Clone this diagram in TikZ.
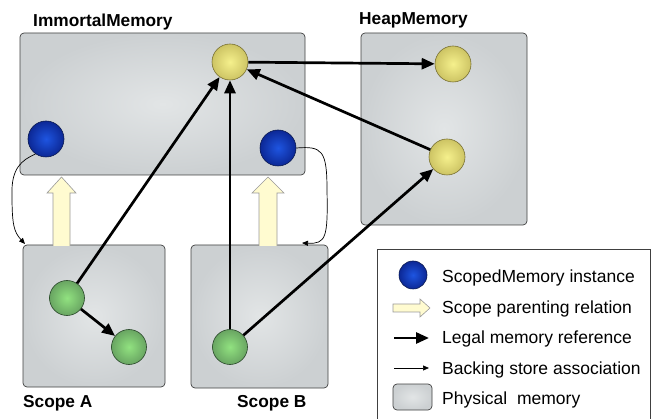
\documentclass[tikz,border=0pt]{standalone}
\usepackage{fontspec}
\setmainfont{Liberation Sans}
\usetikzlibrary{arrows.meta,shadings}
\definecolor{memin}{RGB}{226,229,230}
\definecolor{memout}{RGB}{204,208,210}
\definecolor{yin}{RGB}{245,240,140}
\definecolor{yout}{RGB}{205,196,100}
\definecolor{yb}{RGB}{120,112,50}
\definecolor{bin}{RGB}{30,85,225}
\definecolor{bout}{RGB}{12,40,150}
\definecolor{bb}{RGB}{10,25,80}
\definecolor{gin}{RGB}{145,226,128}
\definecolor{gout}{RGB}{105,165,98}
\definecolor{gb}{RGB}{40,70,40}
\definecolor{cream}{RGB}{255,251,208}
\begin{document}
\begin{tikzpicture}[x=1pt,y=-1pt,
  mem/.style={draw=black!75, line width=0.7pt, rounded corners=4pt, inner color=memin, outer color=memout},
  yball/.style={circle, minimum size=36pt, inner sep=0pt, draw=yb, line width=0.6pt, inner color=yin, outer color=yout},
  bball/.style={circle, minimum size=36pt, inner sep=0pt, draw=bb, line width=0.6pt, inner color=bin, outer color=bout},
  gball/.style={circle, minimum size=35pt, inner sep=0pt, draw=gb, line width=0.6pt, inner color=gin, outer color=gout},
  legal/.style={line width=2.7pt, -{Triangle[length=13pt,width=11pt]}},
  backing/.style={line width=0.7pt, -{Triangle[length=6pt,width=5pt]}},
  hollow/.style={fill=cream, draw=black!40, line width=0.6pt},
  title/.style={font=\fontsize{17.3}{20}\selectfont\bfseries, anchor=base west, inner sep=0pt},
  legtext/.style={font=\fontsize{17.5}{20}\selectfont, anchor=base west, inner sep=0pt}]
\useasboundingbox (0,0) rectangle (653,419);
% memory areas
\path[mem] (20,33) rectangle (305,175);
\path[mem] (361,33) rectangle (527,225);
\path[mem] (23,245) rectangle (165,387);
\path[mem] (191,245) rectangle (328,388);
% titles
\node[title] (timm) at (33,26.5) {ImmortalMemory};
\node[title] (theap) at (359,25) {HeapMemory};
\node[title] (tsa) at (23,407) {Scope A};
\node[title] (tsb) at (237,407) {Scope B};
% hollow parenting arrows
\fill[cream] (53,246) -- (53,193) -- (47,193) -- (61.5,177) -- (76,193) -- (70,193) -- (70,246) -- cycle;
\draw[draw=black!40, line width=0.6pt] (53,246) -- (53,193) -- (47,193) -- (61.5,177) -- (76,193) -- (70,193) -- (70,246);
\fill[cream] (259,246) -- (259,193) -- (252,193) -- (268,177) -- (284,193) -- (277,193) -- (277,246) -- cycle;
\draw[draw=black!40, line width=0.6pt] (259,246) -- (259,193) -- (252,193) -- (268,177) -- (284,193) -- (277,193) -- (277,246);
% balls
\node[yball] (iy) at (230,62) {};
\node[yball] (ht) at (453,64) {};
\node[yball] (hl) at (447,157) {};
\node[bball] (bl) at (46,139) {};
\node[bball] (br) at (278,148) {};
\node[gball] (a1) at (67,298) {};
\node[gball] (a2) at (129,347) {};
\node[gball] (gb) at (230,347) {};
% legal references
\draw[legal] (iy) -- (ht);
\draw[legal] (hl) -- (iy);
\draw[legal] (a1) -- (iy);
\draw[legal] (gb) -- (iy);
\draw[legal] (gb) -- (hl);
\draw[legal] (a1) -- (a2);
% backing store
\coordinate (sat) at (25,244);
\coordinate (sbt) at (302,243);
\draw[backing] (bl.235) .. controls (22,160) and (11,168) .. (12,195)
  .. controls (12,225) and (14,232) .. (sat);
\draw[backing] (br.east) .. controls (322,146) and (327,150) .. (327,190)
  .. controls (328,238) and (326,244) .. (sbt);
% legend
\draw[black!75, line width=0.7pt] (377,425) -- (377,249) -- (650,249) -- (650,425);
\node[bball, minimum size=28pt] (lball) at (413,275) {};
\node[legtext] (l1) at (442,283) {ScopedMemory instance};
\draw[hollow] (393,304) -- (420,304) -- (420,299) -- (430,308) -- (420,317) -- (420,312) -- (393,312) -- cycle;
\node[legtext] (l2) at (442,314) {Scope parenting relation};
\coordinate (lt1) at (394,338);
\coordinate (lt2) at (429,338);
\draw[legal] (lt1) -- (lt2);
\node[legtext] (l3) at (442,344) {Legal memory reference};
\coordinate (lb1) at (394,368);
\coordinate (lb2) at (429,368);
\draw[backing] (lb1) -- (lb2);
\node[legtext] (l4) at (442,374) {Backing store association};
\path[mem] (393,384) rectangle (432,410);
\node[legtext] (l5) at (442,404) {Physical\ \ memory};
\end{tikzpicture}
\end{document}
